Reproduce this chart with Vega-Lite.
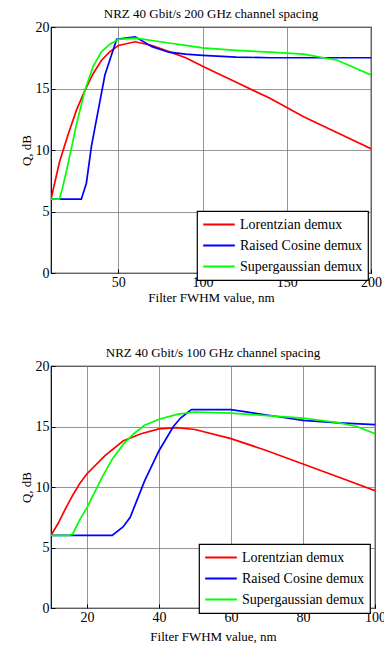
{
  "$schema": "https://vega.github.io/schema/vega-lite/v6.json",
  "padding": {"left": 19, "top": 7, "right": 0, "bottom": 0},
  "background": "white",
  "datasets": {
    "top": [
      {"f": "Lorentzian demux", "x": 10, "q": 6},
      {"f": "Lorentzian demux", "x": 15, "q": 9},
      {"f": "Lorentzian demux", "x": 20, "q": 11.2},
      {"f": "Lorentzian demux", "x": 25, "q": 13.2},
      {"f": "Lorentzian demux", "x": 30, "q": 14.8},
      {"f": "Lorentzian demux", "x": 35, "q": 16.2},
      {"f": "Lorentzian demux", "x": 40, "q": 17.3},
      {"f": "Lorentzian demux", "x": 45, "q": 18},
      {"f": "Lorentzian demux", "x": 50, "q": 18.5},
      {"f": "Lorentzian demux", "x": 60, "q": 18.8},
      {"f": "Lorentzian demux", "x": 70, "q": 18.5},
      {"f": "Lorentzian demux", "x": 80, "q": 18},
      {"f": "Lorentzian demux", "x": 90, "q": 17.5},
      {"f": "Lorentzian demux", "x": 100, "q": 16.8},
      {"f": "Lorentzian demux", "x": 120, "q": 15.5},
      {"f": "Lorentzian demux", "x": 140, "q": 14.2},
      {"f": "Lorentzian demux", "x": 160, "q": 12.7},
      {"f": "Lorentzian demux", "x": 180, "q": 11.4},
      {"f": "Lorentzian demux", "x": 200, "q": 10.1},
      {"f": "Raised Cosine demux", "x": 10, "q": 6},
      {"f": "Raised Cosine demux", "x": 20, "q": 6},
      {"f": "Raised Cosine demux", "x": 28, "q": 6},
      {"f": "Raised Cosine demux", "x": 31, "q": 7.3},
      {"f": "Raised Cosine demux", "x": 34, "q": 10.3},
      {"f": "Raised Cosine demux", "x": 42, "q": 16.1},
      {"f": "Raised Cosine demux", "x": 49, "q": 19},
      {"f": "Raised Cosine demux", "x": 60, "q": 19.2},
      {"f": "Raised Cosine demux", "x": 70, "q": 18.4},
      {"f": "Raised Cosine demux", "x": 80, "q": 17.95},
      {"f": "Raised Cosine demux", "x": 90, "q": 17.8},
      {"f": "Raised Cosine demux", "x": 100, "q": 17.7},
      {"f": "Raised Cosine demux", "x": 120, "q": 17.55},
      {"f": "Raised Cosine demux", "x": 140, "q": 17.5},
      {"f": "Raised Cosine demux", "x": 160, "q": 17.5},
      {"f": "Raised Cosine demux", "x": 180, "q": 17.5},
      {"f": "Raised Cosine demux", "x": 200, "q": 17.5},
      {"f": "Supergaussian demux", "x": 10, "q": 6},
      {"f": "Supergaussian demux", "x": 15, "q": 6},
      {"f": "Supergaussian demux", "x": 17, "q": 7},
      {"f": "Supergaussian demux", "x": 20, "q": 8.8},
      {"f": "Supergaussian demux", "x": 25, "q": 12},
      {"f": "Supergaussian demux", "x": 30, "q": 14.8},
      {"f": "Supergaussian demux", "x": 35, "q": 16.8},
      {"f": "Supergaussian demux", "x": 40, "q": 18},
      {"f": "Supergaussian demux", "x": 45, "q": 18.6},
      {"f": "Supergaussian demux", "x": 50, "q": 19},
      {"f": "Supergaussian demux", "x": 60, "q": 19.1},
      {"f": "Supergaussian demux", "x": 70, "q": 18.9},
      {"f": "Supergaussian demux", "x": 80, "q": 18.7},
      {"f": "Supergaussian demux", "x": 90, "q": 18.5},
      {"f": "Supergaussian demux", "x": 100, "q": 18.3},
      {"f": "Supergaussian demux", "x": 120, "q": 18.1},
      {"f": "Supergaussian demux", "x": 140, "q": 17.95},
      {"f": "Supergaussian demux", "x": 160, "q": 17.8},
      {"f": "Supergaussian demux", "x": 180, "q": 17.3},
      {"f": "Supergaussian demux", "x": 200, "q": 16.1}
    ],
    "bottom": [
      {"f": "Lorentzian demux", "x": 10, "q": 6},
      {"f": "Lorentzian demux", "x": 12, "q": 7},
      {"f": "Lorentzian demux", "x": 14, "q": 8.2},
      {"f": "Lorentzian demux", "x": 16, "q": 9.3},
      {"f": "Lorentzian demux", "x": 18, "q": 10.3},
      {"f": "Lorentzian demux", "x": 20, "q": 11.1},
      {"f": "Lorentzian demux", "x": 25, "q": 12.6},
      {"f": "Lorentzian demux", "x": 30, "q": 13.8},
      {"f": "Lorentzian demux", "x": 35, "q": 14.4},
      {"f": "Lorentzian demux", "x": 40, "q": 14.8},
      {"f": "Lorentzian demux", "x": 45, "q": 14.9},
      {"f": "Lorentzian demux", "x": 50, "q": 14.75},
      {"f": "Lorentzian demux", "x": 60, "q": 14},
      {"f": "Lorentzian demux", "x": 70, "q": 13},
      {"f": "Lorentzian demux", "x": 80, "q": 11.9},
      {"f": "Lorentzian demux", "x": 90, "q": 10.8},
      {"f": "Lorentzian demux", "x": 100, "q": 9.7},
      {"f": "Raised Cosine demux", "x": 10, "q": 6},
      {"f": "Raised Cosine demux", "x": 20, "q": 6},
      {"f": "Raised Cosine demux", "x": 27, "q": 6},
      {"f": "Raised Cosine demux", "x": 30, "q": 6.7},
      {"f": "Raised Cosine demux", "x": 32, "q": 7.5},
      {"f": "Raised Cosine demux", "x": 34, "q": 9},
      {"f": "Raised Cosine demux", "x": 36, "q": 10.5},
      {"f": "Raised Cosine demux", "x": 40, "q": 13},
      {"f": "Raised Cosine demux", "x": 44, "q": 15},
      {"f": "Raised Cosine demux", "x": 46, "q": 15.7},
      {"f": "Raised Cosine demux", "x": 49, "q": 16.4},
      {"f": "Raised Cosine demux", "x": 60, "q": 16.4},
      {"f": "Raised Cosine demux", "x": 70, "q": 15.95},
      {"f": "Raised Cosine demux", "x": 80, "q": 15.5},
      {"f": "Raised Cosine demux", "x": 90, "q": 15.3},
      {"f": "Raised Cosine demux", "x": 100, "q": 15.15},
      {"f": "Supergaussian demux", "x": 10, "q": 6},
      {"f": "Supergaussian demux", "x": 15, "q": 6},
      {"f": "Supergaussian demux", "x": 16, "q": 6.1},
      {"f": "Supergaussian demux", "x": 18, "q": 7.3},
      {"f": "Supergaussian demux", "x": 20, "q": 8.3},
      {"f": "Supergaussian demux", "x": 22, "q": 9.5},
      {"f": "Supergaussian demux", "x": 24, "q": 10.7},
      {"f": "Supergaussian demux", "x": 27, "q": 12.3},
      {"f": "Supergaussian demux", "x": 30, "q": 13.5},
      {"f": "Supergaussian demux", "x": 33, "q": 14.4},
      {"f": "Supergaussian demux", "x": 36, "q": 15.1},
      {"f": "Supergaussian demux", "x": 40, "q": 15.6},
      {"f": "Supergaussian demux", "x": 45, "q": 16},
      {"f": "Supergaussian demux", "x": 50, "q": 16.2},
      {"f": "Supergaussian demux", "x": 60, "q": 16.1},
      {"f": "Supergaussian demux", "x": 70, "q": 15.9},
      {"f": "Supergaussian demux", "x": 80, "q": 15.7},
      {"f": "Supergaussian demux", "x": 90, "q": 15.3},
      {"f": "Supergaussian demux", "x": 95, "q": 15},
      {"f": "Supergaussian demux", "x": 100, "q": 14.4}
    ]
  },
  "vconcat": [
    {
      "width": 320,
      "height": 246,
      "title": {"text": "NRZ 40 Gbit/s 200 GHz channel spacing"},
      "data": {"name": "top"},
      "mark": {"type": "line", "strokeWidth": 1.7, "clip": true},
      "encoding": {
        "x": {"field": "x", "type": "quantitative", "scale": {"domain": [10, 200], "nice": false, "zero": false},
              "axis": {"values": [50, 100, 150, 200], "title": "Filter FWHM value, nm"}},
        "y": {"field": "q", "type": "quantitative", "scale": {"domain": [0, 20], "nice": false},
              "axis": {"values": [0, 5, 10, 15, 20], "title": "Q, dB"}},
        "color": {"field": "f", "type": "nominal",
                  "scale": {"domain": ["Lorentzian demux", "Raised Cosine demux", "Supergaussian demux"], "range": ["#ff0000", "#0000ff", "#00ff00"]},
                  "legend": {"orient": "none", "legendX": 146, "legendY": 184}}
      }
    },
    {
      "width": 324,
      "height": 242,
      "title": {"text": "NRZ 40 Gbit/s 100 GHz channel spacing"},
      "data": {"name": "bottom"},
      "mark": {"type": "line", "strokeWidth": 1.7, "clip": true},
      "encoding": {
        "x": {"field": "x", "type": "quantitative", "scale": {"domain": [10, 100], "nice": false, "zero": false},
              "axis": {"values": [20, 40, 60, 80, 100], "title": "Filter FWHM value, nm", "titlePadding": 6}},
        "y": {"field": "q", "type": "quantitative", "scale": {"domain": [0, 20], "nice": false},
              "axis": {"values": [0, 5, 10, 15, 20], "title": "Q, dB"}},
        "color": {"field": "f", "type": "nominal",
                  "scale": {"domain": ["Lorentzian demux", "Raised Cosine demux", "Supergaussian demux"], "range": ["#ff0000", "#0000ff", "#00ff00"]},
                  "legend": {"orient": "none", "legendX": 148, "legendY": 178}}
      }
    }
  ],
  "spacing": 41,
  "resolve": {"legend": {"color": "independent"}, "scale": {"x": "independent"}},
  "config": {
    "font": "'Liberation Serif', 'Times New Roman', serif",
    "view": {"stroke": "black", "strokeWidth": 1.2},
    "style": {
      "guide-label": {"font": "'Liberation Serif', 'Times New Roman', serif"},
      "guide-title": {"font": "'Liberation Serif', 'Times New Roman', serif"},
      "group-title": {"font": "'Liberation Serif', 'Times New Roman', serif"}
    },
    "title": {"font": "'Liberation Serif', 'Times New Roman', serif", "fontSize": 13, "fontWeight": "normal", "color": "black", "offset": -1},
    "axis": {
      "labelFont": "'Liberation Serif', 'Times New Roman', serif", "labelFontSize": 14, "labelColor": "black",
      "titleFont": "'Liberation Serif', 'Times New Roman', serif", "titleFontSize": 13, "titleFontWeight": "normal", "titleColor": "black",
      "grid": true, "gridColor": "#7a7a7a", "gridWidth": 0.8,
      "domain": false, "ticks": true, "tickSize": -4, "tickColor": "black", "labelPadding": 6,
      "labelFlush": false, "labelOverlap": false,
      "titlePadding": 2
    },
    "legend": {
      "title": null, "symbolType": "stroke", "symbolSize": 1000, "symbolStrokeWidth": 2,
      "labelFont": "'Liberation Serif', 'Times New Roman', serif", "labelFontSize": 14, "labelColor": "black",
      "strokeColor": "black", "fillColor": "white", "padding": 5, "rowPadding": 4,
      "clipHeight": 17,
      "cornerRadius": 0, "labelOffset": 4, "strokeWidth": 1.2
    }
  }
}
